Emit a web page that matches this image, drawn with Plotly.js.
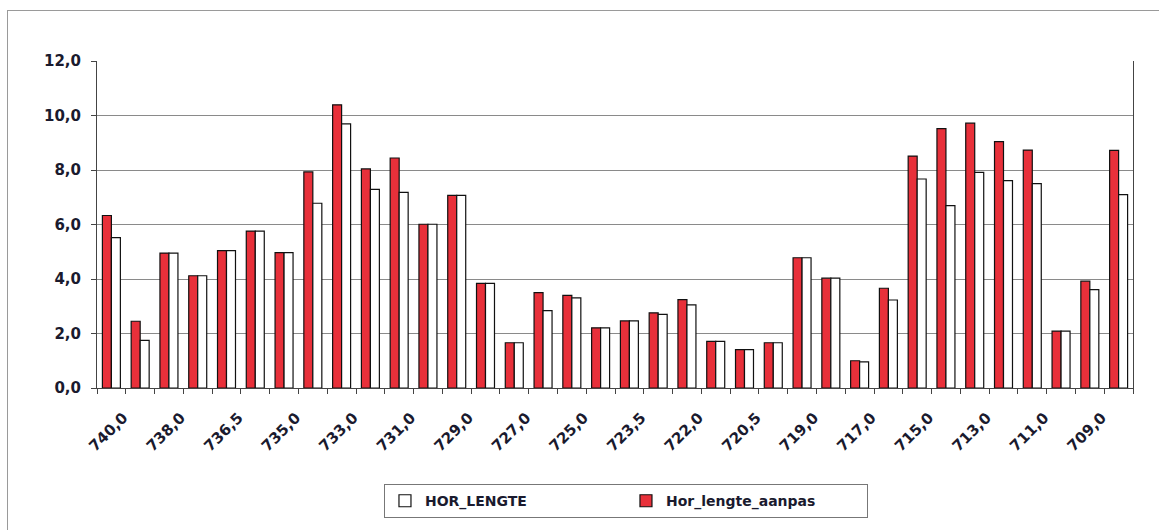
<!DOCTYPE html>
<html>
<head>
<meta charset="utf-8">
<script src="https://cdn.plot.ly/plotly-3.0.1.min.js"></script>
<style>
  html, body { margin: 0; padding: 0; background: #fff; }
  #wrap { position: relative; width: 1159px; height: 530px; overflow: hidden; }
  #chart { position: absolute; left: 0; top: 0; width: 1159px; height: 530px; }
  #frame { position: absolute; left: 7px; top: 10px; width: 1170px; height: 540px;
           border-left: 1px solid #9a9a9a; border-top: 1px solid #9a9a9a; pointer-events: none; }
</style>
</head>
<body>
<div id="wrap">
  <div id="chart"></div>
  <div id="frame"></div>
</div>
<script>
const categories = ["740,0","739,0","738,0","737,0","736,5","735,5","735,0","734,0","733,0","732,0",
  "731,0","730,0","729,0","728,0","727,0","726,0","725,0","724,0","723,5","723,0",
  "722,0","721,0","720,5","720,0","719,0","718,0","717,0","716,0","715,0","714,0",
  "713,0","712,0","711,0","710,0","709,0","708,0"];

const tickLabels = ["740,0","","738,0","","736,5","","735,0","","733,0","",
  "731,0","","729,0","","727,0","","725,0","","723,5","",
  "722,0","","720,5","","719,0","","717,0","","715,0","",
  "713,0","","711,0","","709,0",""];

const horLengteAanpas = [6.33,2.45,4.95,4.12,5.04,5.76,4.97,7.93,10.39,8.04,
  8.44,6.01,7.07,3.84,1.66,3.50,3.40,2.21,2.46,2.76,
  3.24,1.71,1.41,1.66,4.78,4.03,1.00,3.66,8.51,9.52,
  9.72,9.04,8.73,2.09,3.92,8.72];

const horLengte = [5.52,1.75,4.95,4.12,5.04,5.76,4.97,6.78,9.69,7.29,
  7.18,6.01,7.07,3.84,1.66,2.84,3.31,2.21,2.46,2.70,
  3.05,1.71,1.41,1.66,4.78,4.03,0.96,3.23,7.67,6.69,
  7.91,7.61,7.50,2.09,3.61,7.10];

const yTicks = [0, 2, 4, 6, 8, 10, 12];

const FONT = "DejaVu Sans, Verdana, sans-serif";

const traces = [
  {
    type: "bar", name: "Hor_lengte_aanpas", x: categories, y: horLengteAanpas,
    marker: { color: "#e8303a", line: { color: "#111", width: 1.2 } },
    legendrank: 2, hoverinfo: "x+y"
  },
  {
    type: "bar", name: "HOR_LENGTE", x: categories, y: horLengte,
    marker: { color: "#ffffff", line: { color: "#111", width: 1.2 } },
    legendrank: 1, hoverinfo: "x+y"
  }
];

const layout = {
  width: 1159, height: 530,
  paper_bgcolor: "rgba(0,0,0,0)", plot_bgcolor: "#fff",
  margin: { l: 97, r: 26, t: 61, b: 139 },
  barmode: "group", bargap: 0.375, bargroupgap: 0,
  separators: ", ",
  font: { family: FONT, size: 15, color: "#1a1a2e", weight: "bold" },
  xaxis: {
    type: "category",
    tickmode: "array", tickvals: categories, ticktext: tickLabels,
    tickangle: -45, tickson: "boundaries",
    ticks: "outside", ticklen: 5, tickcolor: "#444", tickwidth: 1,
    ticklabelshift: 12, ticklabelstandoff: 14,
    showline: true, linecolor: "#444", linewidth: 1,
    showgrid: false, zeroline: false,
    tickfont: { family: FONT, size: 15, color: "#1a1a2e", weight: "bold" }
  },
  yaxis: {
    range: [0, 12], tickmode: "array", tickvals: yTicks, tickformat: ".1f",
    ticks: "outside", ticklen: 5, tickcolor: "#444",
    ticklabelstandoff: 7,
    showline: true, linecolor: "#444", linewidth: 1, mirror: true,
    showgrid: true, gridcolor: "#8a8a8a", gridwidth: 1, zeroline: false,
    tickfont: { family: FONT, size: 15, color: "#1a1a2e", weight: "bold" }
  },
  showlegend: true,
  legend: {
    orientation: "h", x: 0.277, xanchor: "left", y: -0.294, yanchor: "top",
    bgcolor: "#fff", bordercolor: "#777", borderwidth: 1,
    entrywidth: 196, itemwidth: 30,
    font: { family: FONT, size: 14, color: "#1a1a2e", weight: "bold" }
  }
};

Plotly.newPlot("chart", traces, layout, { displayModeBar: false, staticPlot: true });
</script>
</body>
</html>
